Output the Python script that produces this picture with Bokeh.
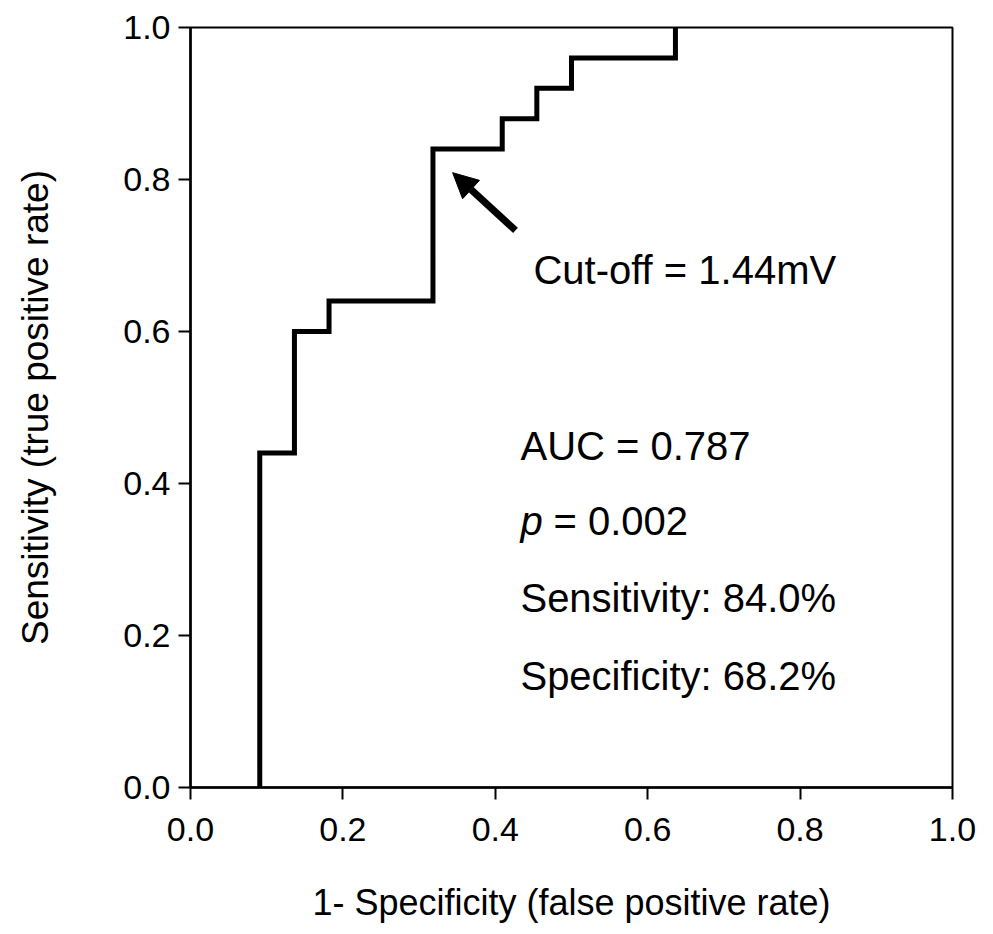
from bokeh.plotting import figure
from bokeh.models import Range1d, Label, Arrow, NormalHead, FixedTicker, PrintfTickFormatter
from bokeh.embed import file_html
from bokeh.resources import INLINE

# ROC curve corners (1 - specificity, sensitivity)
roc_fpr = [0.0909, 0.0909, 0.1364, 0.1364, 0.1818, 0.1818, 0.3182, 0.3182,
           0.4091, 0.4091, 0.4545, 0.4545, 0.5000, 0.5000, 0.6364, 0.6364]
roc_tpr = [0.00, 0.44, 0.44, 0.60, 0.60, 0.64, 0.64, 0.84,
           0.84, 0.88, 0.88, 0.92, 0.92, 0.96, 0.96, 1.00]

tick_values = [0.0, 0.2, 0.4, 0.6, 0.8, 1.0]

x_title = "1- Specificity (false positive rate)"
y_title = "Sensitivity (true positive rate)"

# cut-off arrow (tail -> head) and annotation texts
arrow_tail = (0.4265, 0.733)
arrow_head = (0.344, 0.809)
cutoff_text = "Cut-off = 1.44mV"
cutoff_pos = (0.450, 0.6815)
stats_x = 0.433
stats_lines = ["AUC = 0.787", "p", "Sensitivity: 84.0%", "Specificity: 68.2%"]
stats_y = [0.450, 0.351, 0.2487, 0.1472]
p_value_text = "= 0.002"
p_value_x = 0.4764

FONT = "Liberation Sans"

p = figure(width=985, height=926, output_backend="svg", toolbar_location=None,
           x_range=Range1d(0, 1), y_range=Range1d(0, 1),
           min_border_left=190, min_border_right=33, min_border_top=27,
           min_border_bottom=139)

p.xgrid.visible = False
p.ygrid.visible = False
p.outline_line_color = "black"
p.outline_line_width = 2
p.outline_line_alpha = 1.0

fmt = PrintfTickFormatter(format="%.1f")
for ax in (p.xaxis[0], p.yaxis[0]):
    ax.ticker = FixedTicker(ticks=tick_values)
    ax.formatter = fmt
    ax.minor_tick_line_color = None
    ax.major_tick_in = 0
    ax.major_tick_out = 12
    ax.major_tick_line_width = 2
    ax.major_tick_line_color = "black"
    ax.axis_line_width = 2.5
    ax.axis_line_color = "black"
    ax.major_label_text_font = FONT
    ax.major_label_text_font_size = "34px"
    ax.major_label_text_color = "black"
    ax.axis_label_text_font = FONT
    ax.axis_label_text_font_style = "normal"
    ax.axis_label_text_color = "black"

p.xaxis[0].axis_label = x_title
p.yaxis[0].axis_label = y_title
p.xaxis[0].axis_label_text_font_size = "36px"
p.yaxis[0].axis_label_text_font_size = "37px"
p.xaxis[0].major_label_standoff = 18
p.yaxis[0].major_label_standoff = 8
p.xaxis[0].axis_label_standoff = 38
p.yaxis[0].axis_label_standoff = 64

p.line(roc_fpr, roc_tpr, line_color="black", line_width=5, line_join="miter")

p.add_layout(Arrow(end=NormalHead(size=25, fill_color="black", line_color="black", line_width=1),
                   x_start=arrow_tail[0], y_start=arrow_tail[1],
                   x_end=arrow_head[0], y_end=arrow_head[1],
                   line_color="black", line_width=7))

p.add_layout(Label(x=cutoff_pos[0], y=cutoff_pos[1], text=cutoff_text,
                   text_font=FONT, text_font_size="40px", text_color="black",
                   text_baseline="alphabetic", text_align="left"))

for txt, yy in zip(stats_lines, stats_y):
    p.add_layout(Label(x=stats_x, y=yy, text=txt, text_font=FONT,
                       text_font_size="40px", text_color="black",
                       text_font_style="italic" if txt == "p" else "normal",
                       text_baseline="alphabetic", text_align="left"))
p.add_layout(Label(x=p_value_x, y=stats_y[1], text=p_value_text, text_font=FONT,
                   text_font_size="40px", text_color="black",
                   text_baseline="alphabetic", text_align="left"))

open("out.html", "w").write(file_html(p, INLINE))
